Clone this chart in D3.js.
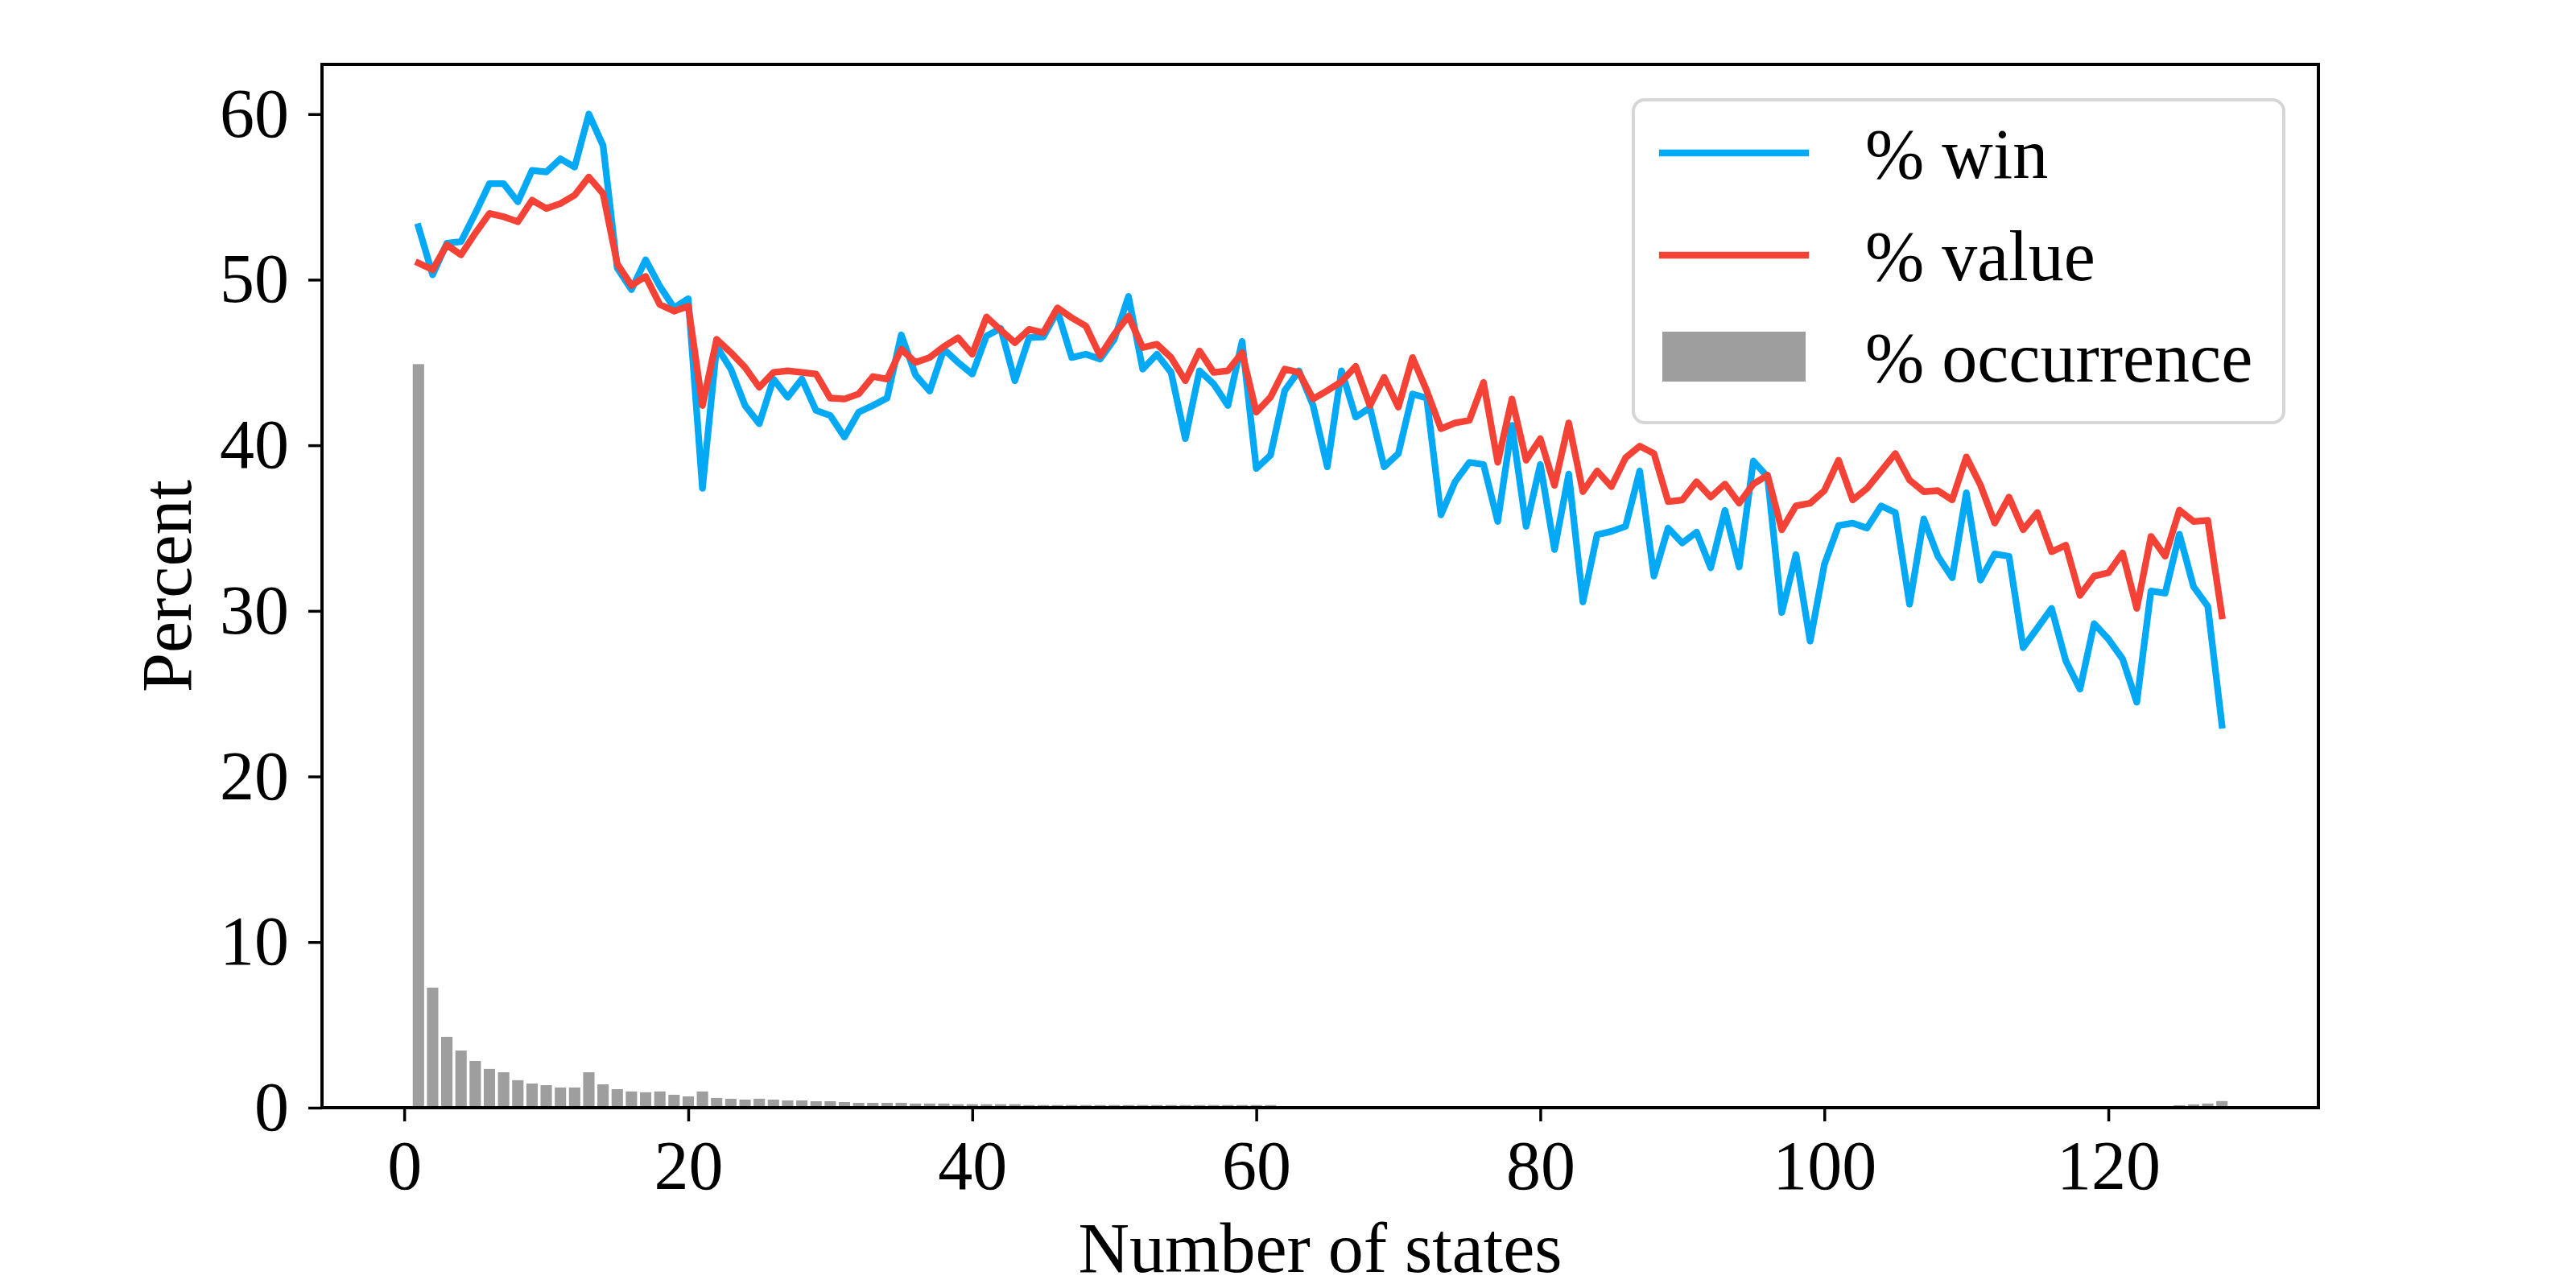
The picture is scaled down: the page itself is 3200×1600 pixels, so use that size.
<!DOCTYPE html>
<html><head><meta charset="utf-8">
<script src="https://cdn.jsdelivr.net/npm/d3@7"></script>
<style>html,body{margin:0;padding:0;background:#fff;}svg{display:block;}</style>
</head><body>
<script>
// ---------------- data ----------------
const states = [1,2,3,4,5,6,7,8,9,10,11,12,13,14,15,16,17,18,19,20,21,22,23,24,25,26,27,28,29,30,
31,32,33,34,35,36,37,38,39,40,41,42,43,44,45,46,47,48,49,50,51,52,53,54,55,56,57,58,59,60,
61,62,63,64,65,66,67,68,69,70,71,72,73,74,75,76,77,78,79,80,81,82,83,84,85,86,87,88,89,90,
91,92,93,94,95,96,97,98,99,100,101,102,103,104,105,106,107,108,109,110,111,112,113,114,115,116,117,118,119,120,
121,122,123,124,125,126,127,128];

const winPct = [53.2,50.3,52.2,52.3,54.0,55.8,55.8,54.7,56.6,56.5,57.3,56.8,60.0,58.1,50.7,49.4,51.2,49.6,48.3,48.85,
37.4,45.96,44.6,42.4,41.3,44.0,42.9,44.0,42.1,41.8,40.5,42.0,42.4,42.85,46.67,44.25,43.27,45.8,45.0,44.3,
46.6,47.06,43.9,46.5,46.54,48.1,45.3,45.5,45.2,46.4,48.99,44.6,45.5,44.4,40.4,44.5,43.7,42.4,46.27,38.6,
39.4,43.3,44.5,42.4,38.7,44.5,41.7,42.27,38.7,39.5,43.1,42.85,35.8,37.8,38.97,38.84,35.4,41.2,35.1,38.84,
33.7,38.26,30.54,34.6,34.8,35.1,38.45,32.1,35.0,34.1,34.76,32.6,36.07,32.65,39.05,38.1,29.9,33.4,28.17,32.8,
35.15,35.3,35.0,36.34,35.94,30.4,35.55,33.3,32.0,37.13,31.86,33.44,33.3,27.78,28.96,30.15,26.99,25.27,29.23,28.3,
27.1,24.48,31.2,31.07,34.63,31.46,30.28,23.1];

const valuePct = [51.0,50.6,52.1,51.5,52.8,54.0,53.8,53.5,54.8,54.3,54.6,55.1,56.2,55.2,50.96,49.65,50.2,48.5,48.1,48.4,
42.4,46.4,45.6,44.7,43.5,44.4,44.5,44.4,44.3,42.85,42.8,43.1,44.15,44.0,45.8,45.0,45.3,45.96,46.5,45.5,
47.75,46.96,46.2,47.0,46.8,48.3,47.7,47.2,45.4,46.7,47.8,45.9,46.1,45.3,43.9,45.7,44.4,44.5,45.6,42.0,
42.9,44.6,44.4,42.8,43.3,43.85,44.77,42.4,44.1,42.3,45.3,43.3,41.0,41.35,41.5,43.8,38.97,42.8,39.1,40.4,
37.58,41.35,37.2,38.45,37.5,39.24,39.95,39.5,36.6,36.7,37.8,36.87,37.66,36.5,37.66,38.2,34.9,36.34,36.5,37.26,
39.1,36.7,37.39,38.45,39.5,37.9,37.2,37.26,36.7,39.3,37.58,35.3,36.87,34.9,35.94,33.57,33.97,30.94,32.1,32.3,
33.5,30.15,34.5,33.3,36.08,35.4,35.47,29.7];

const occurrencePct = [44.9,7.25,4.28,3.45,2.82,2.34,2.14,1.66,1.46,1.36,1.22,1.22,2.14,1.41,1.12,0.98,0.93,0.98,0.78,0.68,
0.98,0.59,0.54,0.49,0.54,0.49,0.44,0.44,0.39,0.39,0.34,0.29,0.29,0.29,0.29,0.25,0.25,0.25,0.21,0.21,
0.21,0.21,0.21,0.16,0.16,0.16,0.16,0.16,0.16,0.16,0.16,0.16,0.16,0.16,0.16,0.16,0.16,0.16,0.16,0.16,
0.16,0,0,0,0,0,0,0,0,0,0,0,0,0,0,0,0,0,0,0,
0,0,0,0,0,0,0,0,0,0,0,0,0,0,0,0,0,0,0,0,
0,0,0,0,0,0,0,0,0,0,0,0,0,0,0,0,0,0,0,0,
0,0,0,0,0.15,0.2,0.25,0.4];

const xTicks = [0,20,40,60,80,100,120];
const yTicks = [0,10,20,30,40,50,60];
const legendLabels = ["% win","% value","% occurrence"];
const xLabel = "Number of states";
const yLabel = "Percent";

// ---------------- layout ----------------
const W = 3200, H = 1600;
const L = 400, R = 2880, T = 80, B = 1376;
const FONT = "'Liberation Serif','Times New Roman',Times,serif";
const C_WIN = "#03A9F4", C_VAL = "#F44336", C_BAR = "#9E9E9E";

const svg = d3.select("body").append("svg").attr("width", W).attr("height", H);

const x = d3.scaleLinear().domain([-5.79, 134.79]).range([L, R]);
const y = d3.scaleLinear().domain([0, 63]).range([B, T]);

// bars
const barW = x(0.8) - x(0);
svg.append("g").selectAll("rect").data(states).join("rect")
  .attr("x", (d) => x(d) - barW / 2)
  .attr("width", barW)
  .attr("y", (d, i) => y(occurrencePct[i]))
  .attr("height", (d, i) => y(0) - y(occurrencePct[i]))
  .attr("fill", C_BAR);

// lines
const line = (arr) => d3.line().x((d) => x(d)).y((d, i) => y(arr[i]))(states);
svg.append("path").attr("d", line(winPct)).attr("fill", "none")
  .attr("stroke", C_WIN).attr("stroke-width", 8.3).attr("stroke-linejoin", "round").attr("stroke-linecap", "square");
svg.append("path").attr("d", line(valuePct)).attr("fill", "none")
  .attr("stroke", C_VAL).attr("stroke-width", 8.3).attr("stroke-linejoin", "round").attr("stroke-linecap", "square");

// axes
const xAxis = svg.append("g").attr("transform", `translate(0,${B})`)
  .call(d3.axisBottom(x).tickValues(xTicks).tickSize(17).tickPadding(23).tickFormat(d3.format("d")));
const yAxis = svg.append("g").attr("transform", `translate(${L},0)`)
  .call(d3.axisLeft(y).tickValues(yTicks).tickSize(17).tickPadding(24).tickFormat(d3.format("d")));
[xAxis, yAxis].forEach((g) => {
  g.select(".domain").remove();
  g.selectAll(".tick line").attr("stroke", "#000").attr("stroke-width", 3.5);
  g.selectAll(".tick text").attr("fill", "#000").style("font-family", FONT).style("font-size", "86px");
});

// spines
svg.append("rect").attr("x", L).attr("y", T).attr("width", R - L).attr("height", B - T)
  .attr("fill", "none").attr("stroke", "#000").attr("stroke-width", 4);

// axis labels
svg.append("text").attr("x", (L + R) / 2).attr("y", 1580).attr("text-anchor", "middle")
  .style("font-family", FONT).style("font-size", "88px").text(xLabel);
svg.append("text").attr("transform", `translate(237,${(T + B) / 2}) rotate(-90)`).attr("text-anchor", "middle")
  .style("font-family", FONT).style("font-size", "88px").text(yLabel);

// legend
const lg = svg.append("g");
lg.append("rect").attr("x", 2029).attr("y", 124).attr("width", 808).attr("height", 401).attr("rx", 14)
  .attr("fill", "#fff").attr("stroke", "#d6d6d6").attr("stroke-width", 4);
const rowY = [190, 317, 443];
const legendColors = [C_WIN, C_VAL, C_BAR];
legendLabels.forEach((lab, i) => {
  if (i < 2) {
    lg.append("line").attr("x1", 2065).attr("x2", 2243).attr("y1", rowY[i]).attr("y2", rowY[i])
      .attr("stroke", legendColors[i]).attr("stroke-width", 8.3).attr("stroke-linecap", "square");
  } else {
    lg.append("rect").attr("x", 2065).attr("y", rowY[i] - 31).attr("width", 178).attr("height", 62)
      .attr("fill", legendColors[i]);
  }
  lg.append("text").attr("x", 2317).attr("y", rowY[i] + 31)
    .style("font-family", FONT).style("font-size", "88px").text(lab);
});
</script>
</body></html>
